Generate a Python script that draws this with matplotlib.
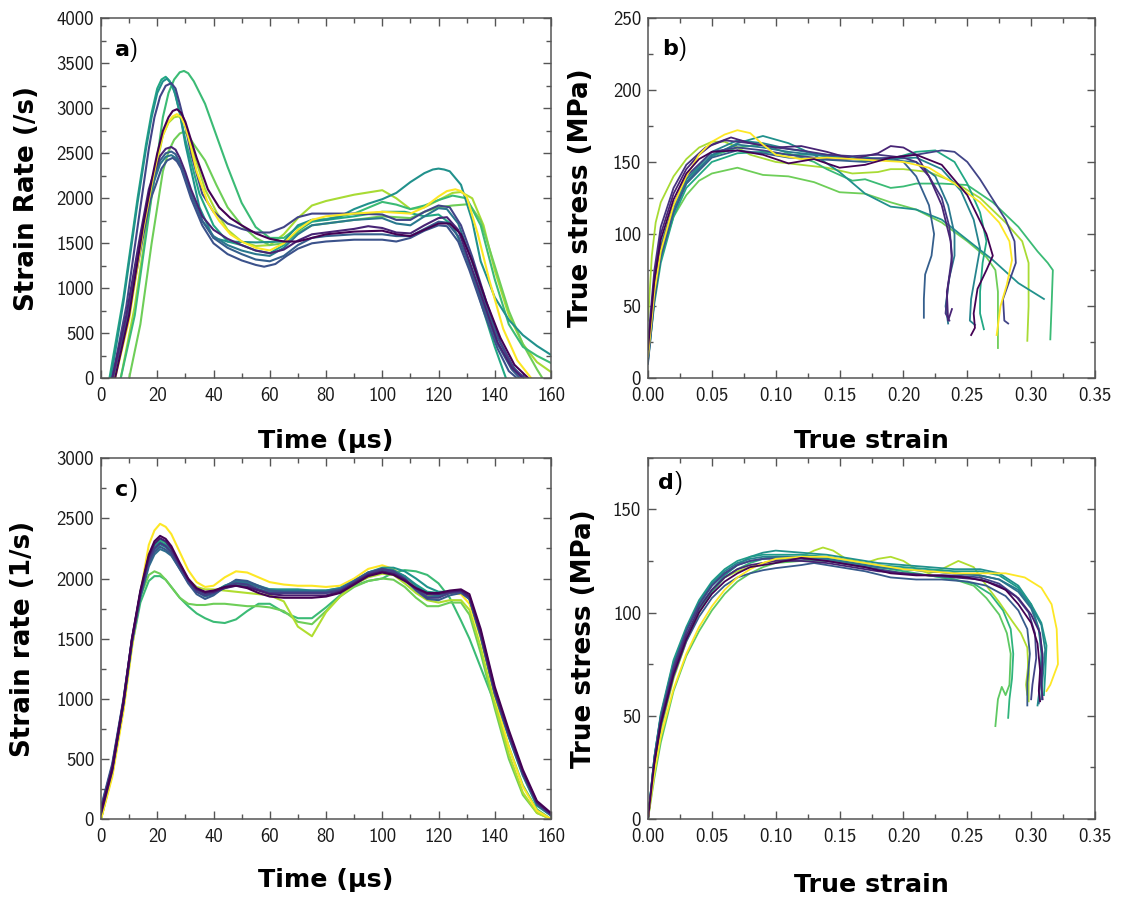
import numpy as np
import matplotlib
matplotlib.use("Agg")
import matplotlib.pyplot as plt
from matplotlib.ticker import MultipleLocator, FormatStrFormatter

# ---------------- Panel a: strain rate vs time (time in us, rate in /s) ----------------
a_c1 = [(0,-600),(3,0),(8,900),(13,2000),(16,2600),(18,2950),(20,3220),(21.5,3320),(23,3350),(24.5,3300),(26,3200),(28,2950),(30,2650),(35,2050),(40,1700),(45,1520),(50,1480),(55,1420),(60,1390),(65,1480),(70,1640),(75,1740),(80,1760),(90,1800),(100,1850),(108,1850),(115,1800),(120,1820),(125,1700),(130,1350),(135,850),(140,350),(144,0),(147,-300)]
a_c2 = [(0,-500),(3.5,0),(8,850),(13,1950),(16,2550),(18,2900),(20,3170),(22,3300),(23.5,3330),(25,3270),(26.5,3150),(28,2950),(30,2600),(35,1900),(40,1560),(45,1520),(55,1510),(65,1520),(70,1700),(75,1760),(80,1760),(85,1800),(90,1880),(95,1940),(100,1990),(105,2060),(110,2180),(115,2280),(118,2320),(120,2330),(122,2320),(124,2300),(128,2150),(132,1750),(135,1300),(140,900),(145,650),(150,480),(155,360),(160,260)]
a_c3 = [(0,-500),(4,0),(9,800),(14,1900),(17,2550),(19,2900),(21,3130),(23,3250),(25,3280),(26.5,3220),(28,3050),(30,2800),(32,2500),(36,2050),(40,1850),(45,1720),(50,1660),(55,1620),(60,1620),(65,1680),(70,1790),(75,1830),(80,1830),(90,1830),(100,1820),(105,1760),(110,1760),(115,1850),(120,1920),(124,1900),(128,1700),(132,1350),(137,850),(142,400),(147,100),(151,0),(155,-200)]
a_c4 = [(0,-800),(7,0),(12,700),(17,1800),(20,2450),(22,2900),(24,3170),(26,3320),(28,3400),(29.5,3415),(31,3390),(33,3300),(37,3050),(41,2700),(45,2350),(50,1950),(55,1680),(60,1560),(65,1560),(70,1680),(75,1760),(80,1770),(90,1830),(100,1960),(105,1930),(110,1880),(115,1920),(120,1980),(125,2030),(130,2000),(135,1700),(140,1100),(145,600),(150,350),(155,250),(160,170)]
a_c5 = [(0,-500),(5,0),(10,700),(15,1700),(18,2200),(20,2500),(22,2750),(24,2900),(25.5,2970),(27,2990),(28.5,2950),(30,2850),(32,2650),(34,2450),(38,2100),(42,1900),(46,1780),(50,1700),(55,1610),(60,1550),(65,1520),(70,1520),(75,1560),(80,1600),(90,1630),(100,1640),(105,1600),(110,1580),(115,1650),(120,1720),(124,1720),(128,1600),(132,1300),(137,850),(142,450),(147,150),(152,0),(155,-150)]
a_c6 = [(0,-600),(5,0),(10,650),(15,1650),(18,2150),(20,2450),(22,2700),(24,2850),(25.5,2910),(27,2935),(28.5,2900),(30,2800),(32,2570),(34,2300),(38,1950),(42,1750),(46,1600),(50,1520),(55,1450),(60,1420),(65,1500),(70,1650),(75,1760),(80,1800),(90,1830),(100,1850),(105,1840),(110,1830),(115,1900),(120,2020),(123,2080),(126,2100),(128,2080),(130,2020),(134,1600),(138,1100),(143,550),(148,200),(153,0),(156,-150)]
a_c7 = [(0,-900),(10,0),(14,600),(18,1500),(22,2300),(24,2520),(26,2650),(28,2720),(29.5,2740),(31,2700),(33,2600),(37,2420),(41,2150),(45,1900),(50,1700),(55,1560),(60,1480),(65,1500),(70,1620),(75,1700),(80,1720),(90,1760),(100,1800),(105,1790),(110,1780),(115,1850),(120,1900),(125,1920),(131,1935),(135,1750),(140,1250),(145,750),(150,380),(155,100),(157,0),(160,-100)]
a_c8 = [(0,-700),(7,0),(12,800),(17,1850),(20,2400),(22,2700),(24,2840),(26,2900),(27.5,2910),(29,2880),(31,2720),(33,2500),(37,2100),(41,1850),(45,1650),(50,1520),(55,1470),(60,1480),(65,1600),(70,1780),(75,1920),(80,1970),(90,2040),(100,2090),(105,2000),(110,1880),(115,1900),(120,1980),(125,2060),(128,2070),(132,2000),(136,1700),(140,1200),(145,700),(150,380),(155,180),(160,70)]
a_c9 = [(0,-400),(4,0),(9,700),(14,1600),(17,2100),(19,2300),(21,2470),(23,2550),(25,2570),(26.5,2540),(28,2450),(30,2290),(32,2100),(36,1800),(40,1650),(45,1550),(50,1480),(55,1420),(60,1390),(65,1430),(70,1530),(75,1600),(80,1620),(90,1660),(95,1690),(100,1670),(105,1620),(110,1610),(115,1700),(120,1780),(123,1790),(127,1650),(131,1300),(136,850),(141,400),(146,120),(150,0),(153,-150)]
a_c10 = [(0,-400),(4,0),(9,650),(14,1550),(17,2050),(19,2250),(21,2420),(23,2500),(25,2520),(26.5,2490),(28,2400),(30,2240),(32,2050),(36,1750),(40,1560),(45,1450),(50,1380),(55,1320),(60,1300),(65,1360),(70,1480),(75,1560),(80,1580),(90,1600),(100,1600),(105,1580),(110,1580),(115,1660),(120,1740),(123,1730),(127,1580),(131,1250),(136,800),(141,380),(146,100),(149,0),(152,-150)]
a_c11 = [(0,-400),(4.5,0),(9.5,650),(14.5,1500),(17.5,1980),(19.5,2150),(21.5,2330),(23.5,2420),(25.5,2450),(27,2410),(28.5,2330),(30,2190),(32,2000),(36,1700),(40,1500),(45,1380),(50,1310),(55,1260),(58,1240),(62,1270),(66,1360),(70,1440),(75,1500),(80,1520),(90,1540),(100,1540),(105,1520),(110,1560),(115,1640),(120,1700),(123,1690),(127,1520),(131,1200),(136,750),(141,330),(145,80),(148,0),(151,-150)]
a_c12 = [(0,-400),(4,0),(9,650),(14,1550),(17,2000),(19,2200),(21,2380),(23,2460),(25,2480),(26.5,2450),(28,2380),(30,2220),(32,2050),(36,1750),(40,1580),(45,1480),(50,1420),(55,1380),(60,1360),(65,1450),(70,1600),(75,1700),(80,1720),(90,1760),(100,1780),(105,1720),(110,1700),(115,1800),(120,1890),(123,1880),(127,1720),(131,1380),(136,900),(141,450),(146,150),(150,0),(153,-150)]
a_curves = [a_c8, a_c7, a_c4, a_c1, a_c2, a_c12, a_c10, a_c11, a_c3, a_c9, a_c6, a_c5]
a_colors = [0.87, 0.78, 0.68, 0.60, 0.50, 0.40, 0.30, 0.25, 0.20, 0.10, 1.00, 0.00]

# ---------------- Panel b: true stress vs true strain ----------------
b_c1 = [(0,15),(0.005,60),(0.01,88),(0.02,120),(0.03,140),(0.04,155),(0.05,164),(0.06,169),(0.07,172),(0.08,170),(0.09,162),(0.10,155),(0.12,152),(0.14,153),(0.16,152),(0.18,151),(0.20,150),(0.22,146),(0.24,135),(0.26,122),(0.275,108),(0.283,95),(0.285,82),(0.281,65),(0.276,50),(0.273,30)]
b_c2 = [(0,40),(0.003,85),(0.006,108),(0.01,122),(0.02,140),(0.03,152),(0.04,160),(0.05,164),(0.06,164),(0.07,160),(0.08,155),(0.10,150),(0.12,148),(0.14,146),(0.16,142),(0.18,143),(0.19,145),(0.20,145),(0.22,143),(0.24,136),(0.26,125),(0.28,108),(0.293,95),(0.298,80),(0.298,50),(0.297,26)]
b_c3 = [(0,20),(0.005,65),(0.01,92),(0.02,120),(0.03,138),(0.05,154),(0.07,160),(0.09,162),(0.11,156),(0.13,150),(0.14,145),(0.16,137),(0.17,138),(0.19,132),(0.20,133),(0.21,135),(0.23,135),(0.25,134),(0.27,122),(0.29,105),(0.305,88),(0.313,80),(0.317,75),(0.316,50),(0.315,27)]
b_c4 = [(0,20),(0.005,60),(0.01,85),(0.02,112),(0.03,127),(0.04,137),(0.05,142),(0.07,146),(0.09,141),(0.11,140),(0.13,136),(0.15,129),(0.17,128),(0.19,122),(0.21,117),(0.23,108),(0.25,95),(0.265,84),(0.272,75),(0.274,60),(0.274,40),(0.274,21)]
b_c5 = [(0,15),(0.005,58),(0.01,85),(0.02,115),(0.03,135),(0.05,154),(0.07,163),(0.09,168),(0.11,163),(0.13,155),(0.15,143),(0.17,128),(0.19,119),(0.21,117),(0.23,110),(0.25,96),(0.27,82),(0.29,66),(0.31,55)]
b_c6 = [(0,20),(0.005,68),(0.01,96),(0.02,124),(0.03,142),(0.04,152),(0.05,157),(0.07,158),(0.09,155),(0.11,149),(0.13,152),(0.15,146),(0.17,148),(0.19,153),(0.21,155),(0.23,148),(0.25,127),(0.265,100),(0.27,85),(0.265,75),(0.258,62),(0.255,45),(0.256,35),(0.253,30)]
b_c7 = [(0,20),(0.005,70),(0.01,100),(0.02,128),(0.03,145),(0.04,155),(0.05,162),(0.065,167),(0.08,163),(0.10,160),(0.12,161),(0.14,157),(0.16,152),(0.18,156),(0.19,161),(0.20,160),(0.21,155),(0.22,140),(0.23,120),(0.237,95),(0.238,80),(0.234,60),(0.235,40),(0.238,48)]
b_c8 = [(0,15),(0.005,62),(0.01,90),(0.02,120),(0.03,140),(0.05,157),(0.07,160),(0.09,158),(0.11,155),(0.13,153),(0.15,152),(0.17,152),(0.19,153),(0.21,155),(0.23,158),(0.24,157),(0.25,150),(0.26,138),(0.27,124),(0.28,110),(0.287,95),(0.288,80),(0.282,65),(0.278,55),(0.279,40),(0.282,38)]
b_c9 = [(0,10),(0.005,55),(0.01,84),(0.02,115),(0.03,135),(0.05,153),(0.07,158),(0.09,156),(0.11,153),(0.13,152),(0.15,151),(0.17,150),(0.19,153),(0.20,150),(0.21,140),(0.22,120),(0.224,100),(0.222,85),(0.217,72),(0.216,55),(0.216,42)]
b_c10 = [(0,12),(0.005,55),(0.01,84),(0.02,115),(0.03,136),(0.05,155),(0.07,162),(0.09,160),(0.11,157),(0.13,155),(0.15,153),(0.17,152),(0.19,151),(0.21,150),(0.225,140),(0.235,120),(0.24,100),(0.24,85),(0.236,70),(0.233,50),(0.235,38)]
b_c11 = [(0,12),(0.005,52),(0.01,80),(0.02,112),(0.03,132),(0.05,150),(0.07,156),(0.09,157),(0.11,155),(0.13,155),(0.15,153),(0.17,151),(0.19,152),(0.21,157),(0.225,158),(0.24,150),(0.25,135),(0.26,115),(0.265,95),(0.262,80),(0.26,60),(0.26,45),(0.263,34)]
b_c12 = [(0,14),(0.005,58),(0.01,88),(0.02,118),(0.03,138),(0.05,157),(0.07,165),(0.09,163),(0.11,159),(0.13,156),(0.15,154),(0.17,153),(0.19,152),(0.21,153),(0.23,145),(0.245,130),(0.255,110),(0.26,90),(0.257,75),(0.253,55),(0.252,40),(0.256,37)]
b_c13 = [(0,25),(0.005,75),(0.01,105),(0.02,132),(0.03,148),(0.045,160),(0.06,165),(0.08,163),(0.10,160),(0.12,158),(0.14,155),(0.16,154),(0.18,155),(0.20,153),(0.21,150),(0.22,140),(0.23,125),(0.236,105),(0.238,85),(0.235,65),(0.233,45),(0.236,40)]
b_curves = [b_c2, b_c4, b_c3, b_c11, b_c5, b_c12, b_c10, b_c9, b_c8, b_c13, b_c7, b_c1, b_c6]
b_colors = [0.87, 0.78, 0.68, 0.60, 0.50, 0.45, 0.40, 0.30, 0.20, 0.15, 0.10, 1.00, 0.00]

# ---------------- Panel c: strain rate vs time ----------------
c_time = [0, 4, 8, 11, 14, 17, 19, 21, 23, 25, 28, 31, 34, 37, 40, 44, 48, 52, 56, 60, 65, 70, 75, 80, 85, 90, 95, 100, 104, 108, 112, 116, 120, 124, 128, 131, 135, 140, 145, 150, 155, 160]
c_yellow = [0, 350, 900, 1420, 1880, 2280, 2400, 2455, 2430, 2370, 2220, 2070, 1970, 1930, 1940, 2010, 2060, 2050, 2010, 1970, 1950, 1940, 1940, 1930, 1940, 2000, 2080, 2110, 2080, 2000, 1920, 1860, 1850, 1880, 1870, 1790, 1500, 1020, 600, 270, 70, 0]
c_ygreen = [0, 370, 930, 1450, 1880, 2180, 2270, 2310, 2280, 2220, 2100, 1990, 1930, 1910, 1910, 1900, 1890, 1880, 1870, 1860, 1810, 1600, 1520, 1720, 1850, 1950, 2010, 2040, 2030, 1960, 1880, 1820, 1800, 1820, 1820, 1740, 1430, 960, 540, 220, 50, 0]
c_lgreen = [0, 400, 950, 1480, 1850, 2030, 2060, 2040, 1990, 1930, 1840, 1790, 1780, 1780, 1790, 1790, 1780, 1770, 1770, 1760, 1730, 1640, 1620, 1730, 1850, 1930, 1980, 2000, 1990, 1930, 1840, 1770, 1770, 1800, 1800, 1700, 1380, 920, 500, 200, 50, 0]
c_green = [0, 380, 930, 1440, 1800, 1980, 2020, 2020, 1990, 1930, 1840, 1770, 1710, 1670, 1640, 1630, 1660, 1730, 1790, 1790, 1720, 1670, 1670, 1760, 1860, 1940, 1980, 2000, 2050, 2070, 2060, 2030, 1960, 1840, 1650, 1500, 1260, 960, 600, 280, 80, 0]
c_b0 = [60, 420, 980, 1500, 1900, 2200, 2310, 2355, 2330, 2270, 2130, 2000, 1920, 1890, 1900, 1930, 1940, 1920, 1880, 1850, 1840, 1840, 1840, 1850, 1880, 1950, 2020, 2050, 2030, 1980, 1920, 1880, 1880, 1900, 1910, 1870, 1580, 1100, 740, 410, 150, 50]
c_b1 = [40, 400, 960, 1480, 1880, 2180, 2290, 2335, 2310, 2250, 2120, 1990, 1910, 1880, 1890, 1920, 1940, 1930, 1900, 1870, 1860, 1860, 1860, 1860, 1890, 1960, 2030, 2060, 2040, 1990, 1920, 1870, 1870, 1890, 1900, 1850, 1550, 1070, 720, 390, 140, 40]
c_b2 = [80, 440, 990, 1500, 1880, 2150, 2250, 2295, 2270, 2220, 2100, 1980, 1890, 1860, 1880, 1930, 1960, 1950, 1910, 1880, 1880, 1880, 1880, 1880, 1900, 1970, 2040, 2080, 2060, 2000, 1910, 1840, 1840, 1880, 1890, 1840, 1540, 1060, 700, 380, 130, 40]
c_b3 = [100, 460, 1000, 1490, 1860, 2120, 2220, 2265, 2240, 2200, 2080, 1960, 1870, 1830, 1860, 1930, 1990, 1980, 1940, 1900, 1890, 1890, 1890, 1890, 1910, 1980, 2050, 2080, 2060, 1990, 1900, 1830, 1820, 1860, 1880, 1830, 1520, 1040, 690, 370, 120, 30]
c_b4 = [70, 420, 960, 1460, 1840, 2100, 2200, 2245, 2225, 2190, 2080, 1970, 1890, 1850, 1870, 1930, 1970, 1960, 1930, 1900, 1890, 1890, 1890, 1890, 1910, 1970, 2030, 2060, 2050, 1990, 1910, 1850, 1850, 1880, 1890, 1840, 1540, 1060, 700, 380, 130, 40]
c_b5 = [90, 440, 980, 1480, 1870, 2140, 2240, 2285, 2260, 2220, 2100, 1980, 1900, 1870, 1880, 1940, 1980, 1970, 1940, 1910, 1900, 1900, 1900, 1900, 1920, 1980, 2050, 2080, 2070, 2020, 1940, 1870, 1860, 1890, 1900, 1850, 1560, 1080, 720, 390, 140, 40]
c_b6 = [50, 410, 960, 1470, 1870, 2150, 2260, 2305, 2280, 2230, 2110, 1990, 1910, 1880, 1890, 1940, 1970, 1960, 1930, 1910, 1910, 1910, 1900, 1900, 1920, 1980, 2050, 2090, 2090, 2060, 2000, 1930, 1890, 1890, 1890, 1830, 1530, 1050, 690, 370, 120, 30]
c_b7 = [60, 430, 980, 1490, 1890, 2180, 2280, 2325, 2300, 2240, 2110, 1990, 1900, 1870, 1880, 1920, 1950, 1940, 1910, 1890, 1880, 1880, 1880, 1880, 1900, 1970, 2040, 2070, 2060, 2020, 1950, 1890, 1880, 1890, 1890, 1830, 1520, 1040, 680, 360, 110, 30]
c_curves = [c_green, c_lgreen, c_ygreen, c_yellow, c_b7, c_b6, c_b5, c_b4, c_b3, c_b2, c_b1, c_b0]
c_colors = [0.68, 0.78, 0.88, 1.00, 0.58, 0.52, 0.45, 0.36, 0.28, 0.18, 0.08, 0.00]

# ---------------- Panel d: true stress vs true strain ----------------
d_c1 = [(0,0),(0.005,22),(0.01,40),(0.02,63),(0.03,80),(0.04,93),(0.05,103),(0.06,111),(0.07,117),(0.08,121),(0.09,124),(0.10,126),(0.12,127),(0.14,127),(0.16,125),(0.18,123),(0.20,121),(0.22,120),(0.24,119),(0.26,119),(0.28,119),(0.295,117),(0.308,112),(0.316,104),(0.32,92),(0.321,75),(0.318,70),(0.315,65),(0.312,62)]
d_c2 = [(0,0),(0.005,25),(0.01,43),(0.02,68),(0.03,86),(0.04,100),(0.05,110),(0.06,117),(0.07,120),(0.08,122),(0.09,124),(0.10,125),(0.11,126),(0.12,127),(0.13,130),(0.137,131.5),(0.145,130),(0.155,126),(0.17,124),(0.18,126),(0.19,127),(0.20,125),(0.21,121),(0.22,119),(0.23,121),(0.243,125),(0.255,122),(0.265,113),(0.275,105),(0.285,96),(0.292,90),(0.297,83),(0.298,70),(0.297,60),(0.296,65),(0.298,76),(0.298,57)]
d_c3 = [(0,0),(0.005,20),(0.01,37),(0.02,62),(0.03,79),(0.04,91),(0.05,101),(0.06,109),(0.07,115),(0.08,119),(0.09,122),(0.10,124),(0.12,125),(0.14,125),(0.16,123),(0.18,121),(0.20,119),(0.22,118),(0.24,116),(0.255,113),(0.265,107),(0.275,99),(0.281,90),(0.284,80),(0.283,65),(0.280,60),(0.277,64),(0.274,58),(0.272,45)]
d_c4 = [(0,0),(0.005,27),(0.01,46),(0.02,71),(0.03,88),(0.04,101),(0.05,110),(0.06,117),(0.07,121),(0.08,124),(0.09,126),(0.10,127),(0.12,127),(0.14,126),(0.16,124),(0.18,122),(0.20,120),(0.22,118),(0.24,116),(0.255,114),(0.268,109),(0.278,101),(0.284,92),(0.286,80),(0.285,68),(0.283,58),(0.282,49)]
d_c5 = [(0,0),(0.005,30),(0.01,50),(0.02,76),(0.03,92),(0.04,103),(0.05,111),(0.06,118),(0.07,123),(0.08,127),(0.09,129),(0.10,130),(0.12,129),(0.14,128),(0.16,126),(0.18,124),(0.20,123),(0.22,122),(0.24,121),(0.26,121),(0.275,119),(0.29,113),(0.30,104),(0.306,92),(0.308,80),(0.307,68),(0.306,60),(0.305,55)]
d_b0 = [(0,0),(0.005,27),(0.01,46),(0.02,70),(0.03,87),(0.04,100),(0.05,109),(0.06,115),(0.07,119),(0.08,122),(0.09,123),(0.10,124),(0.12,126.5),(0.14,125),(0.16,123),(0.17,122),(0.19,119),(0.21,118),(0.23,118),(0.25,117),(0.265,115),(0.28,111),(0.29,104),(0.30,95),(0.305,85),(0.307,72),(0.306,62),(0.307,57)]
d_b1 = [(0,0),(0.005,28),(0.01,47),(0.02,72),(0.03,89),(0.04,102),(0.05,111),(0.06,117),(0.07,121),(0.08,123),(0.09,124),(0.10,125),(0.12,125),(0.14,124),(0.16,122),(0.18,120),(0.20,119),(0.22,118),(0.24,117),(0.26,116),(0.275,113),(0.29,107),(0.30,99),(0.307,90),(0.309,78),(0.308,65),(0.309,58)]
d_b2 = [(0,0),(0.005,29),(0.01,49),(0.02,74),(0.03,91),(0.04,104),(0.05,113),(0.06,119),(0.07,123),(0.08,125),(0.09,126),(0.10,126),(0.12,126),(0.14,125),(0.16,123),(0.18,121),(0.20,119),(0.22,118),(0.24,118),(0.26,117),(0.275,114),(0.288,108),(0.298,100),(0.303,90),(0.304,78),(0.301,65),(0.300,58)]
d_b3 = [(0,0),(0.005,26),(0.01,45),(0.02,69),(0.03,86),(0.04,98),(0.05,107),(0.06,113),(0.07,117),(0.08,119),(0.09,120.5),(0.10,121.5),(0.12,123),(0.13,124),(0.15,122),(0.17,120),(0.19,117),(0.21,116),(0.23,116),(0.25,115),(0.265,113),(0.28,108),(0.29,101),(0.297,92),(0.299,80),(0.297,66),(0.297,55)]
d_b4 = [(0,0),(0.005,29),(0.01,49),(0.02,74),(0.03,91),(0.04,104),(0.05,113),(0.06,119),(0.07,123),(0.08,125),(0.09,126),(0.10,127),(0.12,127),(0.14,126),(0.16,124),(0.18,122),(0.20,121),(0.22,120),(0.24,119),(0.26,118),(0.275,116),(0.29,110),(0.30,102),(0.306,92),(0.309,80),(0.307,66),(0.306,56)]
d_b5 = [(0,0),(0.005,30),(0.01,50),(0.02,75),(0.03,92),(0.04,105),(0.05,114),(0.06,120),(0.07,124),(0.08,126),(0.09,127),(0.10,127),(0.12,127),(0.14,126),(0.16,124),(0.18,122),(0.20,121),(0.22,120),(0.24,119),(0.26,118),(0.275,116),(0.29,111),(0.30,103),(0.308,94),(0.311,82),(0.309,68),(0.308,58)]
d_b6 = [(0,0),(0.005,30),(0.01,51),(0.02,77),(0.03,93),(0.04,106),(0.05,115),(0.06,121),(0.07,125),(0.08,127),(0.09,128),(0.10,128),(0.12,128),(0.14,127),(0.16,125),(0.18,123),(0.20,122),(0.22,121),(0.24,120),(0.26,120),(0.275,118),(0.29,112),(0.30,104),(0.308,95),(0.312,84),(0.311,70),(0.310,60)]
d_curves = [d_c2, d_c3, d_c4, d_c5, d_b6, d_b5, d_b4, d_b3, d_b2, d_b1, d_c1, d_b0]
d_colors = [0.88, 0.75, 0.65, 0.50, 0.55, 0.45, 0.38, 0.28, 0.20, 0.10, 1.00, 0.00]

cmap = plt.get_cmap("viridis")
TICK_FONT = "cmss10"
LABEL_FONT = "DejaVu Sans"
SPINE = "#555555"

fig = plt.figure(figsize=(11.23, 9), dpi=100)
W, H = 1123.0, 900.0
ax_a = fig.add_axes([101 / W, 1 - 378.3 / H, 450 / W, 360 / H])
ax_b = fig.add_axes([648 / W, 1 - 378.3 / H, 447 / W, 360.6 / H])
ax_c = fig.add_axes([101 / W, 1 - 819 / H, 450 / W, 360.7 / H])
ax_d = fig.add_axes([648 / W, 1 - 819 / H, 447 / W, 361.3 / H])


def style(ax, xlim, ylim, xmaj, xmin, ymaj, ymin, xfmt, xlabel, ylabel,
          xlab_y, ylab_x, tag, tag_x, tag_px, tag_y):
    ax.set_xlim(*xlim)
    ax.set_ylim(*ylim)
    ax.xaxis.set_major_locator(MultipleLocator(xmaj))
    ax.xaxis.set_minor_locator(MultipleLocator(xmin))
    ax.yaxis.set_major_locator(MultipleLocator(ymaj))
    ax.yaxis.set_minor_locator(MultipleLocator(ymin))
    ax.xaxis.set_major_formatter(FormatStrFormatter(xfmt))
    ax.yaxis.set_major_formatter(FormatStrFormatter("%d"))
    ax.tick_params(which="both", direction="in", top=True, right=True,
                   color=SPINE, labelcolor="#1a1a1a", labelsize=13.5)
    ax.tick_params(axis="x", which="major", pad=6.5)
    ax.tick_params(axis="y", which="major", pad=5)
    ax.tick_params(which="major", length=6, width=1)
    ax.tick_params(which="minor", length=3.5, width=1)
    for lab in ax.get_xticklabels() + ax.get_yticklabels():
        lab.set_family(TICK_FONT)
    for sp in ax.spines.values():
        sp.set_color(SPINE)
        sp.set_linewidth(1.1)
    ax.set_xlabel(xlabel, fontsize=18.3, fontweight="bold", family=LABEL_FONT)
    ax.set_ylabel(ylabel, fontsize=18.8, fontweight="bold", family=LABEL_FONT)
    ax.xaxis.set_label_coords(0.5, xlab_y)
    ax.yaxis.set_label_coords(ylab_x, 0.5)
    ax.text(tag_x, tag_y, tag, transform=ax.transAxes, fontsize=16,
            fontweight="bold", family=LABEL_FONT, ha="left", va="center")
    ax.text(tag_px, tag_y, ")", transform=ax.transAxes, fontsize=17,
            family=TICK_FONT, ha="left", va="center")


for pts, cf in zip(a_curves, a_colors):
    x, y = zip(*pts)
    ax_a.plot(x, y, color=cmap(cf), lw=1.5)
for pts, cf in zip(b_curves, b_colors):
    x, y = zip(*pts)
    ax_b.plot(x, y, color=cmap(cf), lw=1.3)
for vals, cf in zip(c_curves, c_colors):
    ax_c.plot(c_time, vals, color=cmap(cf), lw=1.5)
for pts, cf in zip(d_curves, d_colors):
    x, y = zip(*pts)
    ax_d.plot(x, y, color=cmap(cf), lw=1.3)

style(ax_a, (0, 160), (0, 4000), 20, 10, 500, 250, "%d", "Time (µs)",
      "Strain Rate (/s)", -0.14, -0.135, "a", 0.031, 0.062, 0.912)
style(ax_b, (0, 0.35), (0, 250), 0.05, 0.025, 50, 25, "%.2f", "True strain",
      "True stress (MPa)", -0.14, -0.12, "b", 0.032, 0.067, 0.912)
style(ax_c, (0, 160), (0, 3000), 20, 10, 500, 250, "%d", "Time (µs)",
      "Strain rate (1/s)", -0.136, -0.145, "c", 0.031, 0.062, 0.912)
style(ax_d, (0, 0.35), (0, 175), 0.05, 0.025, 50, 25, "%.2f", "True strain",
      "True stress (MPa)", -0.15, -0.115, "d", 0.022, 0.057, 0.929)

fig.savefig("out.png", dpi=100)
